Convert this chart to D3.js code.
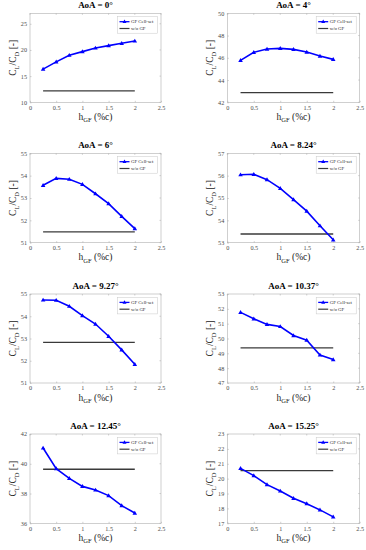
<!DOCTYPE html>
<html><head><meta charset="utf-8">
<script src="https://cdn.jsdelivr.net/npm/d3@7"></script>
<style>
html,body{margin:0;padding:0;background:#fff;}
svg{display:block;font-family:"Liberation Serif","DejaVu Serif",serif;}
</style></head>
<body>
<svg id="c" width="366" height="550"></svg>
<script>
// Data
const hGF = [0.25, 0.5, 0.75, 1.0, 1.25, 1.5, 1.75, 2.0];
const aoaTitles = ["AoA = 0°", "AoA = 4°", "AoA = 6°", "AoA = 8.24°", "AoA = 9.27°", "AoA = 10.37°", "AoA = 12.45°", "AoA = 15.25°"];
const cellSet0  = [16.33, 17.72, 18.99, 19.68, 20.38, 20.82, 21.27, 21.71];
const cellSet4  = [45.77, 46.49, 46.79, 46.85, 46.76, 46.52, 46.16, 45.86];
const cellSet6  = [53.57, 53.88, 53.84, 53.61, 53.19, 52.75, 52.18, 51.63];
const cellSet8  = [56.04, 56.06, 55.82, 55.43, 54.93, 54.41, 53.76, 53.13];
const cellSet9  = [54.73, 54.72, 54.45, 54.03, 53.65, 53.10, 52.49, 51.84];
const cellSet10 = [51.76, 51.33, 50.95, 50.81, 50.20, 49.89, 48.89, 48.58];
const cellSet12 = [41.06, 39.67, 39.02, 38.48, 38.24, 37.86, 37.19, 36.69];
const cellSet15 = [20.69, 20.20, 19.60, 19.17, 18.68, 18.32, 17.90, 17.43];
const withoutGF = [12.2, 42.87, 51.48, 53.39, 52.83, 49.37, 39.63, 20.54];
const yDomains = [[10, 27], [42, 50], [51, 55], [53, 57], [51, 55], [47, 53], [36, 42], [17, 23]];
const yTicks = [[10, 15, 20, 25], [42, 44, 46, 48, 50], [51, 52, 53, 54, 55], [53, 54, 55, 56, 57],
                [51, 52, 53, 54, 55], [47, 48, 49, 50, 51, 52, 53], [36, 38, 40, 42], [17, 18, 19, 20, 21, 22, 23]];
const xTicks = [0, 0.5, 1, 1.5, 2, 2.5];
const legendLabels = ["GF Cell-set", "w/o GF"];
const series = [cellSet0, cellSet4, cellSet6, cellSet8, cellSet9, cellSet10, cellSet12, cellSet15];

const svg = d3.select("#c");
const cols = [{l: 30, r: 161}, {l: 227.3, r: 359.7}];
const rows = [{t: 13.3, b: 102.3}, {t: 153.3, b: 242.7}, {t: 294, b: 383}, {t: 434, b: 523.3}];
const axisCol = "#b0b0b0", tickText = "#4a4a4a";

series.forEach((vals, i) => {
  const c = cols[i % 2], r = rows[Math.floor(i / 2)];
  const x = d3.scaleLinear().domain([0, 2.5]).range([c.l, c.r]);
  const y = d3.scaleLinear().domain(yDomains[i]).range([r.b, r.t]);
  const g = svg.append("g");

  // box
  g.append("rect").attr("x", c.l).attr("y", r.t).attr("width", c.r - c.l).attr("height", r.b - r.t)
    .attr("fill", "#fff").attr("stroke", axisCol).attr("stroke-width", 0.6);

  // x axis
  const xa = g.append("g").attr("transform", `translate(0,${r.b})`)
    .call(d3.axisBottom(x).tickValues(xTicks).tickSize(-1.5).tickPadding(3).tickFormat(d3.format("")));
  const ya = g.append("g").attr("transform", `translate(${c.l},0)`)
    .call(d3.axisLeft(y).tickValues(yTicks[i]).tickSize(-1.5).tickPadding(3).tickFormat(d3.format("")));
  [xa, ya].forEach(a => {
    a.select(".domain").remove();
    a.selectAll("line").attr("stroke", axisCol).attr("stroke-width", 0.6);
    a.selectAll("text").attr("fill", tickText).attr("font-size", 6.2).attr("font-family", "Liberation Serif, serif");
  });
  // top/right ticks
  xTicks.forEach(v => g.append("line").attr("x1", x(v)).attr("x2", x(v)).attr("y1", r.t).attr("y2", r.t + 1.5).attr("stroke", axisCol).attr("stroke-width", 0.6));
  yTicks[i].forEach(v => g.append("line").attr("x1", c.r).attr("x2", c.r - 1.5).attr("y1", y(v)).attr("y2", y(v)).attr("stroke", axisCol).attr("stroke-width", 0.6));

  // w/o GF line
  g.append("line").attr("x1", x(hGF[0])).attr("x2", x(hGF[hGF.length - 1]))
    .attr("y1", y(withoutGF[i])).attr("y2", y(withoutGF[i]))
    .attr("stroke", "#3a3a3a").attr("stroke-width", 1.3);

  // series line
  g.append("path").datum(vals)
    .attr("d", d3.line().x((d, k) => x(hGF[k])).y(d => y(d)))
    .attr("fill", "none").attr("stroke", "#0000ff").attr("stroke-width", 1.6);
  const tri = d3.symbol().type(d3.symbolTriangle).size(9);
  g.selectAll(".m").data(vals).enter().append("path")
    .attr("d", tri).attr("transform", (d, k) => `translate(${x(hGF[k])},${y(d) + 0.3})`)
    .attr("fill", "#0000ff");

  // title
  g.append("text").attr("x", (c.l + c.r) / 2).attr("y", r.t - 5.5).attr("text-anchor", "middle")
    .attr("font-weight", "bold").attr("font-size", 9).attr("fill", "#000").text(aoaTitles[i]);

  // x label
  const xl = g.append("text").attr("x", (c.l + c.r) / 2).attr("y", r.b + 17.5).attr("text-anchor", "middle")
    .attr("font-size", 9.5).attr("fill", "#222");
  xl.append("tspan").text("h");
  xl.append("tspan").attr("font-size", 6.5).attr("dy", 2.5).text("GF");
  xl.append("tspan").attr("dy", -2.5).text(" (%c)");

  // y label
  const yl = g.append("text").attr("transform", `translate(${c.l - 14},${(r.t + r.b) / 2}) rotate(-90)`)
    .attr("text-anchor", "middle").attr("font-size", 9.5).attr("fill", "#222");
  yl.append("tspan").text("C");
  yl.append("tspan").attr("font-size", 6.5).attr("dy", 2.5).text("L");
  yl.append("tspan").attr("dy", -2.5).text("/C");
  yl.append("tspan").attr("font-size", 6.5).attr("dy", 2.5).text("D");
  yl.append("tspan").attr("dy", -2.5).text(" [-]");

  // legend
  const lw = 40, lh = 16.5, lx = c.r - 3.5 - lw, ly = r.t + 3.4;
  const lg = g.append("g");
  lg.append("rect").attr("x", lx).attr("y", ly).attr("width", lw).attr("height", lh)
    .attr("fill", "#fff").attr("stroke", "#c8c8c8").attr("stroke-width", 0.5);
  const rowsY = [ly + 5, ly + 11.8];
  lg.append("line").attr("x1", lx + 2).attr("x2", lx + 12).attr("y1", rowsY[0]).attr("y2", rowsY[0])
    .attr("stroke", "#0000ff").attr("stroke-width", 1.3);
  lg.append("path").attr("d", d3.symbol().type(d3.symbolTriangle).size(7))
    .attr("transform", `translate(${lx + 7},${rowsY[0] + 0.2})`).attr("fill", "#0000ff");
  lg.append("line").attr("x1", lx + 2).attr("x2", lx + 12).attr("y1", rowsY[1]).attr("y2", rowsY[1])
    .attr("stroke", "#3a3a3a").attr("stroke-width", 1.2);
  legendLabels.forEach((t, k) => lg.append("text").attr("x", lx + 13.5).attr("y", rowsY[k] + 1.6)
    .attr("font-size", 4.8).attr("fill", "#222").text(t));
});
</script>
</body></html>
